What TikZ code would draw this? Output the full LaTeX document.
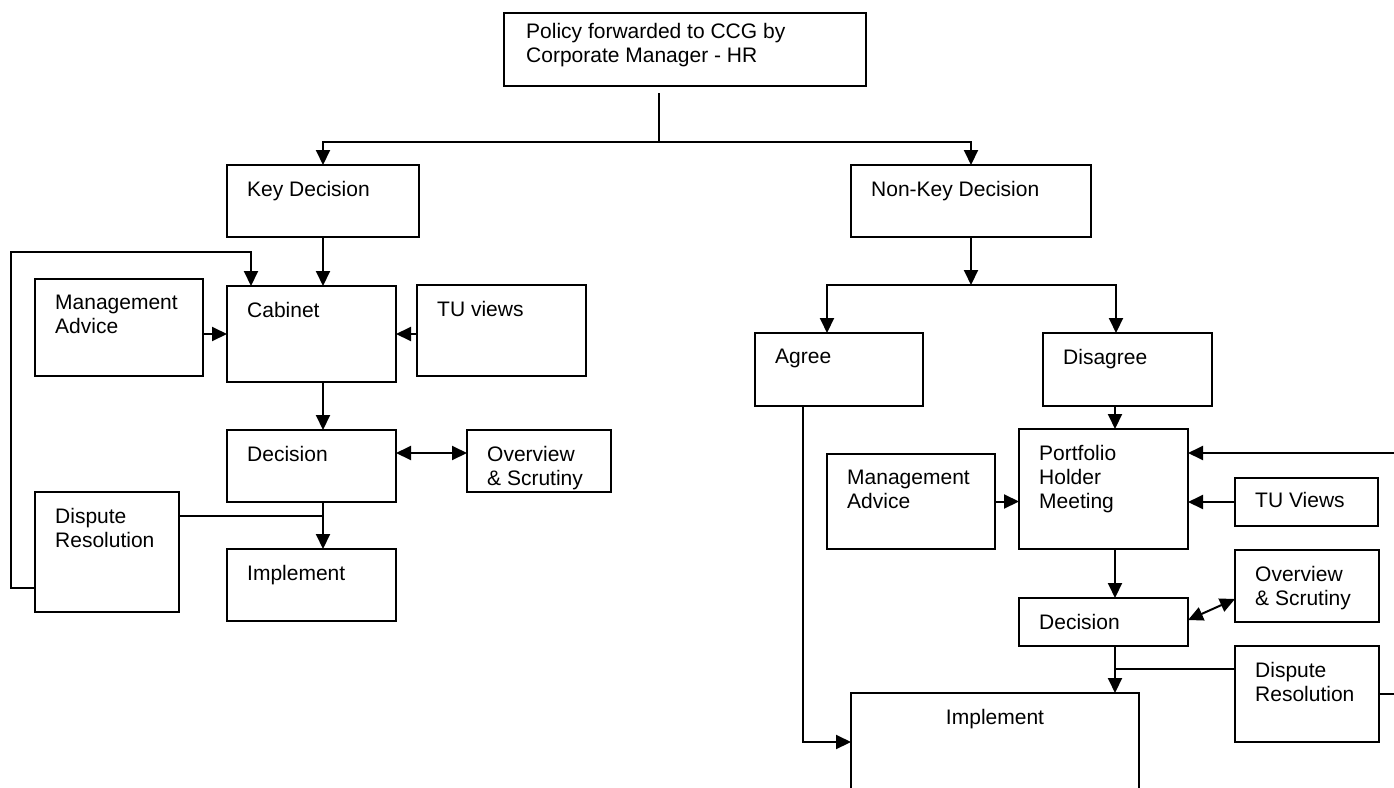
\documentclass[tikz,border=0pt]{standalone}
\usepackage{fontspec}
\setmainfont{Liberation Sans}
\usetikzlibrary{arrows.meta}
\tikzset{
  box/.style 2 args={
    draw,
    line width=2pt,
    anchor=north west,
    inner sep=0pt,
    outer sep=0pt,
    minimum width=#1pt,
    minimum height=#2pt
  },
  boxtext/.style={
    anchor=north west,
    align=left,
    inner sep=0pt,
    xshift=20pt,
    yshift=-16pt,
    font=\fontsize{21}{24}\selectfont
  },
  link/.style={line width=2pt},
  arr/.style={link, -{Triangle[length=15pt,width=14pt]}},
  twoway/.style={link, {Triangle[length=15pt,width=14pt]}-{Triangle[length=15pt,width=14pt]}}
}

\begin{document}
\begin{tikzpicture}[x=1pt, y=-1pt]
  \useasboundingbox (0,0) rectangle (1394,787);

  % top and first split
  \node[box={362}{73}, label={[boxtext, xshift=2pt, yshift=6pt]north west:{Policy forwarded to CCG by\\Corporate Manager - HR}}] (policy) at (504,13) {};
  \node[box={192}{72}, label={[boxtext]north west:Key Decision}] (keydec) at (227,165) {};
  \node[box={240}{72}, label={[boxtext]north west:Non-Key Decision}] (nonkey) at (851,165) {};

  % key decision side
  \node[box={168}{97}, label={[boxtext]north west:{Management\\Advice}}] (mgmtL) at (35,279) {};
  \node[box={169}{96}, label={[boxtext]north west:Cabinet}] (cabinet) at (227,286) {};
  \node[box={169}{91}, label={[boxtext]north west:TU views}] (tuL) at (417,285) {};
  \node[box={169}{72}, label={[boxtext]north west:Decision}] (decL) at (227,430) {};
  \node[box={144}{62}, label={[boxtext]north west:{Overview\\\& Scrutiny}}] (osL) at (467,430) {};
  \node[box={144}{120}, label={[boxtext]north west:{Dispute\\Resolution}}] (dispL) at (35,492) {};
  \node[box={169}{72}, label={[boxtext]north west:Implement}] (implL) at (227,549) {};

  % non-key decision side
  \node[box={168}{73}, label={[boxtext]north west:Agree}] (agree) at (755,333) {};
  \node[box={169}{73}, label={[boxtext]north west:Disagree}] (disagree) at (1043,333) {};
  \node[box={168}{95}, label={[boxtext]north west:{Management\\Advice}}] (mgmtR) at (827,454) {};
  \node[box={169}{120}, label={[boxtext]north west:{Portfolio\\Holder\\Meeting}}] (portfolio) at (1019,429) {};
  \node[box={143}{48}, label={[boxtext, yshift=2pt]north west:TU Views}] (tuR) at (1235,478) {};
  \node[box={144}{72}, label={[boxtext]north west:{Overview\\\& Scrutiny}}] (osR) at (1235,550) {};
  \node[box={169}{48}, label={[boxtext]north west:Decision}] (decR) at (1019,598) {};
  \node[box={144}{96}, label={[boxtext]north west:{Dispute\\Resolution}}] (dispR) at (1235,646) {};
  \node[box={288}{99}, label={[boxtext, anchor=north, xshift=-20pt]north:Implement}] (implR) at (851,693) {};

  \coordinate (split) at (659,142);
  \coordinate (fork) at (971,285);
  \coordinate (lspine) at (323,0);
  \coordinate (rspine) at (1115,0);

  % first split
  \draw[link] ([yshift=-7pt]split |- policy.south) -- (split);
  \draw[arr] (split) -| (keydec.north);
  \draw[arr] (split) -| (nonkey.north);

  % key decision flow
  \draw[arr] (keydec.south) -- (lspine |- cabinet.north);
  \draw[arr] (dispL.west |- 0,588) -| (11,252) -| ([xshift=24pt]cabinet.north west);
  \draw[arr] (cabinet.west -| mgmtL.east) -- (cabinet.west);
  \draw[arr] (tuL.west |- cabinet.east) -- (cabinet.east);
  \draw[arr] (lspine |- cabinet.south) -- (lspine |- decL.north);
  \draw[twoway] (decL.east |- 0,453) -- (osL.west |- 0,453);
  \draw[arr] (lspine |- decL.south) -- (lspine |- implL.north);
  \draw[link] (dispL.east |- 0,516) -- (lspine |- 0,516);

  % non-key decision flow
  \draw[arr] (nonkey.south) -- (fork);
  \draw[arr] (fork) -| ([xshift=72pt]agree.north west);
  \draw[arr] (fork) -| ([xshift=73pt]disagree.north west);
  \draw[arr] ([xshift=48pt]agree.south west) |- (implR.west |- 0,742);
  \draw[arr] (rspine |- disagree.south) -- (rspine |- portfolio.north);
  \draw[arr] (mgmtR.east) -- (mgmtR.east -| portfolio.west);
  \draw[arr] (tuR.west) -- (tuR.west -| portfolio.east);
  \draw[arr] (dispR.east) -| (1398,453) -- (portfolio.east |- 0,453);
  \draw[arr] (rspine |- portfolio.south) -- (rspine |- decR.north);
  \draw[twoway] (decR.east |- 0,620) -- (osR.west |- 0,599);
  \draw[arr] (rspine |- decR.south) -- (rspine |- implR.north);
  \draw[link] (dispR.west |- 0,669) -- (rspine |- 0,669);
\end{tikzpicture}
\end{document}
